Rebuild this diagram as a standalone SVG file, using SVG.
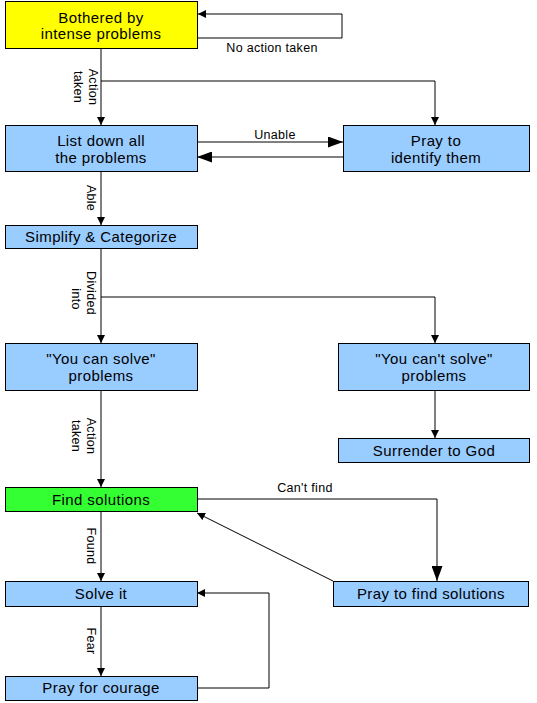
<svg xmlns="http://www.w3.org/2000/svg" width="537" height="703" viewBox="0 0 537 703">
<style>
.box{stroke:#000;stroke-width:1}
.blue{fill:#99CCFF}
.yellow{fill:#FFFF00}
.green{fill:#33FF33}
.t{font-family:"Liberation Sans",Arial,sans-serif;font-size:15px;letter-spacing:0.4px;fill:#000;text-anchor:middle}
.l{font-family:"Liberation Sans",Arial,sans-serif;font-size:12.5px;letter-spacing:0.3px;fill:#000;text-anchor:middle}
.c{fill:none;stroke:#000;stroke-width:1}
</style>
<defs>
<marker id="sa" viewBox="0 0 8 8" refX="8" refY="4" markerWidth="8" markerHeight="8" markerUnits="userSpaceOnUse" orient="auto"><path d="M0,0 L8,4 L0,8 z" fill="#000"/></marker>
<marker id="ba" viewBox="0 0 15 11" refX="15" refY="5.5" markerWidth="15" markerHeight="11" markerUnits="userSpaceOnUse" orient="auto"><path d="M0,0 L15,5.5 L0,11 z" fill="#000"/></marker>
</defs>
<rect width="537" height="703" fill="#fff"/>
<g id="connectors">
<path class="c" d="M101,49 V125" marker-end="url(#sa)"/>
<path class="c" d="M198,38 H342 V14 H198" marker-end="url(#sa)"/>
<path class="c" d="M101,81 H435 V125" marker-end="url(#sa)"/>
<path class="c" d="M197,142 H343" marker-end="url(#ba)"/>
<path class="c" d="M343,157 H197" marker-end="url(#ba)"/>
<path class="c" d="M101,172 V225" marker-end="url(#sa)"/>
<path class="c" d="M101,248 V343" marker-end="url(#sa)"/>
<path class="c" d="M101,297 H435 V343" marker-end="url(#sa)"/>
<path class="c" d="M435,391 V438" marker-end="url(#sa)"/>
<path class="c" d="M101,391 V487" marker-end="url(#sa)"/>
<path class="c" d="M197,499 H437 V581" marker-end="url(#ba)"/>
<path class="c" d="M333,581 L197,513" marker-end="url(#sa)"/>
<path class="c" d="M101,512 V581" marker-end="url(#sa)"/>
<path class="c" d="M101,606 V676" marker-end="url(#sa)"/>
<path class="c" d="M197,688 H269 V593 H197" marker-end="url(#sa)"/>
<text class="l" x="272" y="52">No action taken</text>
<text class="l" x="275" y="139">Unable</text>
<text class="l" x="305" y="492">Can't find</text>
<g transform="translate(89,87) rotate(90)"><text class="l" x="0" y="0">Action</text><text class="l" x="0" y="15">taken</text></g>
<g transform="translate(87,198) rotate(90)"><text class="l" x="0" y="0">Able</text></g>
<g transform="translate(87,293) rotate(90)"><text class="l" x="0" y="0">Divided</text><text class="l" x="6" y="15">into</text></g>
<g transform="translate(87,436) rotate(90)"><text class="l" x="0" y="0">Action</text><text class="l" x="0" y="15">taken</text></g>
<g transform="translate(87,546) rotate(90)"><text class="l" x="0" y="0">Found</text></g>
<g transform="translate(87,641) rotate(90)"><text class="l" x="0" y="0">Fear</text></g>
</g>
<g id="bothered"><rect class="box yellow" x="5.5" y="1.5" width="192" height="47"/><text class="t" x="101" y="22.5">Bothered by</text><text class="t" x="101" y="39">intense problems</text></g>
<g id="list"><rect class="box blue" x="5.5" y="125.5" width="192" height="46"/><text class="t" x="101" y="146">List down all</text><text class="t" x="101" y="163">the problems</text></g>
<g id="identify"><rect class="box blue" x="343.5" y="125.5" width="186" height="46"/><text class="t" x="436" y="146">Pray to</text><text class="t" x="436" y="163">identify them</text></g>
<g id="simplify"><rect class="box blue" x="5.5" y="225.5" width="192" height="23"/><text class="t" x="101" y="242">Simplify &amp; Categorize</text></g>
<g id="cansolve"><rect class="box blue" x="5.5" y="343.5" width="192" height="47"/><text class="t" x="101" y="364">"You can solve"</text><text class="t" x="101" y="381">problems</text></g>
<g id="cantsolve"><rect class="box blue" x="338.5" y="343.5" width="191" height="47"/><text class="t" x="434" y="364">"You can't solve"</text><text class="t" x="434" y="381">problems</text></g>
<g id="surrender"><rect class="box blue" x="338.5" y="438.5" width="191" height="24"/><text class="t" x="434" y="456">Surrender to God</text></g>
<g id="find"><rect class="box green" x="5.5" y="487.5" width="192" height="24"/><text class="t" x="101" y="505">Find solutions</text></g>
<g id="prayfind"><rect class="box blue" x="333.5" y="581.5" width="195" height="25"/><text class="t" x="431" y="599">Pray to find solutions</text></g>
<g id="solve"><rect class="box blue" x="5.5" y="581.5" width="192" height="25"/><text class="t" x="101" y="599">Solve it</text></g>
<g id="courage"><rect class="box blue" x="5.5" y="676.5" width="192" height="24"/><text class="t" x="101" y="693">Pray for courage</text></g>
</svg>
